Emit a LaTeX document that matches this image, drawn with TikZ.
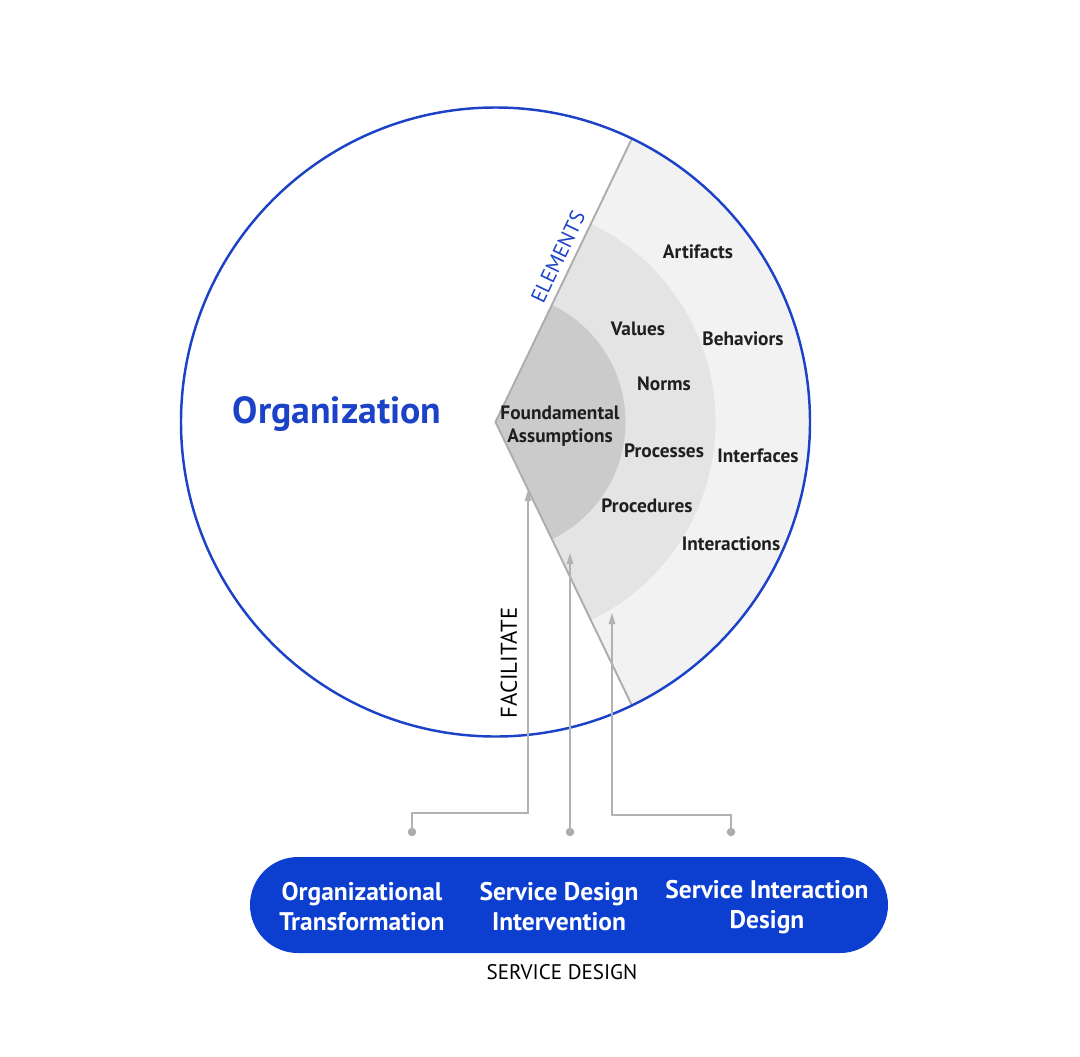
\documentclass[tikz,border=0pt]{standalone}
\usepackage{fontspec}
\setmainfont{PT Sans}
\usetikzlibrary{arrows.meta,positioning}
\definecolor{orgblue}{RGB}{28,66,200}
\definecolor{pillblue}{RGB}{12,62,208}
\definecolor{outerg}{RGB}{242,242,242}
\definecolor{midg}{RGB}{228,228,228}
\definecolor{innerg}{RGB}{203,203,203}

\begin{document}
\begin{tikzpicture}[font=\fontsize{9.5}{11}\selectfont,
  lbl/.style={font=\fontsize{11}{13}\selectfont\bfseries, text=black!88, inner sep=1pt, align=center},
  captxt/.style={font=\fontsize{12}{14}\selectfont, inner sep=1pt},
  pilltxt/.style={font=\fontsize{14.5}{17}\selectfont\bfseries, text=white, align=center, inner sep=1pt},
  dot/.style={circle, fill=black!33, inner sep=0pt, minimum size=0.17cm},
  arr/.style={-{Triangle[length=2.2mm,width=1.3mm]}, draw=black!30, line width=0.8pt},
  wedgeline/.style={draw=black!32, line width=1.1pt}]

\useasboundingbox (-9.91,-12.68) rectangle (11.69,8.44);

% the organization, with its wedge of elements
\fill[outerg] (0,0) -- (-64.3:6.29) arc[start angle=-64.3, end angle=64.3, radius=6.29] -- cycle;
\fill[midg] (0,0) -- (-64.3:4.4) arc[start angle=-64.3, end angle=64.3, radius=4.4] -- cycle;
\fill[innerg] (0,0) -- (-64.3:2.6) arc[start angle=-64.3, end angle=64.3, radius=2.6] -- cycle;
\draw[wedgeline] (-64.3:6.29) -- (0,0) -- (64.3:6.29);
\draw[orgblue, line width=1.4pt] (0,0) circle (6.29);

\node[font=\fontsize{21.5}{25}\selectfont\bfseries, text=orgblue] (org) at (-3.17,0.16) {Organization};
\node[captxt, text=orgblue, rotate=64.3] (elem) at (1.25,3.3) {ELEMENTS};

\node[lbl] (fa) at (1.29,-0.08) {Foundamental\\Assumptions};
\node[lbl] (val) at (2.85,1.86) {Values};
\node[lbl] (nrm) at (3.37,0.76) {Norms};
\node[lbl] (prc) at (3.37,-0.58) {Processes};
\node[lbl] (prd) at (3.03,-1.68) {Procedures};
\node[lbl] (art) at (4.05,3.40) {Artifacts};
\node[lbl] (beh) at (4.95,1.66) {Behaviors};
\node[lbl] (itf) at (5.25,-0.68) {Interfaces};
\node[lbl] (itc) at (4.71,-2.44) {Interactions};

% service design pill
\node[fill=pillblue, rounded corners=0.96cm, minimum width=12.76cm, minimum height=1.92cm] (sd) at (1.47,-9.66) {};
\node[pilltxt] (ot) at (-2.67,-9.7) {Organizational\\Transformation};
\node[pilltxt] (sdi) at (1.27,-9.7) {Service Design\\Intervention};
\node[pilltxt] (sid) at (5.43,-9.7) {Service Interaction\\Design};
\node[captxt] (sdcap) at (1.33,-11.0) {SERVICE DESIGN};

% facilitate arrows
\node[dot] (d1) at (-1.67,-8.2) {};
\node[dot] (d2) at (1.49,-8.2) {};
\node[dot] (d3) at (4.71,-8.2) {};
\coordinate (t1) at (0.65,-1.36);
\coordinate (t2) at (1.49,-2.62);
\coordinate (t3) at (2.33,-3.82);
\draw[arr] (d1.center) -- ++(0,0.38) -| (t1);
\draw[arr] (d2.center) -- (t2);
\draw[arr] (d3.center) -- ++(0,0.34) -| (t3);
\node[captxt, font=\fontsize{13}{15}\selectfont, rotate=90] (fac) at (0.27,-4.82) {FACILITATE};
\end{tikzpicture}
\end{document}
